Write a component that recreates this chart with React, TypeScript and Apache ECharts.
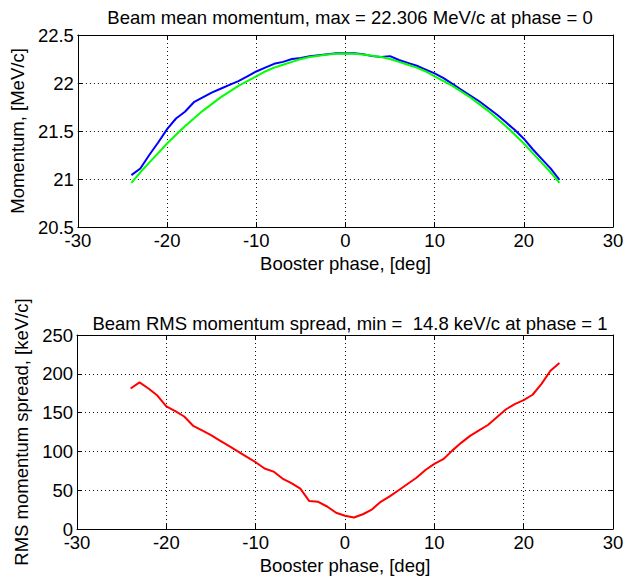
import React, { useEffect, useRef } from "react";
import * as echarts from "echarts";

const phase: number[] = [
  -24, -23, -22, -21, -20, -19, -18, -17, -16, -15, -14, -13, -12, -11, -10, -9, -8, -7, -6, -5, -4, -3, -2, -1, 0,
  1, 2, 3, 4, 5, 6, 7, 8, 9, 10, 11, 12, 13, 14, 15, 16, 17, 18, 19, 20, 21, 22, 23, 24,
];

const meanBlue: number[] = [
  21.04, 21.11, 21.25, 21.38, 21.52, 21.63, 21.7, 21.8, 21.85, 21.9, 21.94, 21.98, 22.02, 22.07, 22.12, 22.16, 22.2,
  22.22, 22.25, 22.26, 22.28, 22.29, 22.3, 22.31, 22.31, 22.31, 22.3, 22.28, 22.27, 22.28, 22.24, 22.21, 22.18, 22.14,
  22.1, 22.05, 21.99, 21.93, 21.87, 21.81, 21.74, 21.67, 21.59, 21.51, 21.42, 21.31, 21.21, 21.11, 20.99,
];

const meanGreen: number[] = [
  20.96, 21.07, 21.17, 21.27, 21.37, 21.46, 21.55, 21.63, 21.71, 21.78, 21.85, 21.91, 21.97, 22.02, 22.07, 22.12,
  22.16, 22.19, 22.22, 22.25, 22.27, 22.285, 22.297, 22.304, 22.306, 22.304, 22.297, 22.285, 22.27, 22.25, 22.22,
  22.19, 22.16, 22.12, 22.07, 22.02, 21.97, 21.91, 21.85, 21.78, 21.71, 21.63, 21.55, 21.46, 21.37, 21.27, 21.17,
  21.07, 20.96,
];

const rmsSpread: number[] = [
  181, 189, 181, 172, 158, 152, 145, 133, 127, 121, 114, 107, 100, 93, 86, 78, 74, 65, 59, 52, 36, 35, 29, 21, 17,
  14.8, 19, 25, 35, 42, 50, 58, 66, 76, 84, 90, 101, 111, 120, 127, 134, 144, 154, 161, 166, 173, 187, 204, 214,
];

const topTitle = "Beam mean momentum, max = 22.306 MeV/c at phase = 0";
const bottomTitle = "Beam RMS momentum spread, min =  14.8 keV/c at phase = 1";
const xName = "Booster phase, [deg]";
const topYName = "Momentum, [MeV/c]";
const bottomYName = "RMS momentum spread, [keV/c]";

const FONT = "'Liberation Sans', Arial, Helvetica, sans-serif";
const FS = 18.5;

export default function App() {
  const ref = useRef<HTMLDivElement>(null);

  useEffect(() => {
    if (!ref.current) return;
    const chart = echarts.init(ref.current, null, { renderer: "svg" });

    const txt = { color: "#000", fontFamily: FONT, fontSize: FS };
    const dotted = { show: true, lineStyle: { color: "#111", width: 1, type: [1, 3] as any } };
    const axLine = { show: true, onZero: false, lineStyle: { color: "#000", width: 1 } };
    const tick = { show: true, inside: true, length: 5, lineStyle: { color: "#000" } };

    const mainX = (gi: number) => ({
      type: "value",
      gridIndex: gi,
      position: "bottom",
      min: -30,
      max: 30,
      interval: 10,
      axisLine: axLine,
      axisTick: tick,
      splitLine: dotted,
      axisLabel: { ...txt, margin: 4 },
      name: xName,
      nameLocation: "middle",
      nameGap: 27,
      nameTextStyle: txt,
    });
    const secX = (gi: number) => ({
      type: "value",
      gridIndex: gi,
      position: "top",
      min: -30,
      max: 30,
      interval: 10,
      axisLine: axLine,
      axisTick: tick,
      splitLine: { show: false },
      axisLabel: { show: false },
    });
    const mainY = (gi: number, min: number, max: number, interval: number, name: string, gap: number) => ({
      type: "value",
      gridIndex: gi,
      position: "left",
      min,
      max,
      interval,
      axisLine: axLine,
      axisTick: tick,
      splitLine: dotted,
      axisLabel: { ...txt, margin: 4 },
      name,
      nameLocation: "middle",
      nameGap: gap,
      nameTextStyle: txt,
    });
    const secY = (gi: number, min: number, max: number, interval: number) => ({
      type: "value",
      gridIndex: gi,
      position: "right",
      min,
      max,
      interval,
      axisLine: axLine,
      axisTick: tick,
      splitLine: { show: false },
      axisLabel: { show: false },
    });

    const pairs = (ys: number[]) => phase.map((x, i) => [x, ys[i]]);

    chart.setOption({
      animation: false,
      backgroundColor: "#fff",
      title: [
        { text: topTitle, left: 345, top: 3, textAlign: "center", textStyle: { ...txt, fontWeight: "normal" } },
        { text: bottomTitle, left: 345, top: 309, textAlign: "center", textStyle: { ...txt, fontWeight: "normal" } },
      ],
      grid: [
        { left: 77, top: 35, width: 536, height: 192 },
        { left: 77, top: 335, width: 536, height: 194 },
      ],
      xAxis: [mainX(0), secX(0), mainX(1), secX(1)],
      yAxis: [
        mainY(0, 20.5, 22.5, 0.5, topYName, 43),
        secY(0, 20.5, 22.5, 0.5),
        mainY(1, 0, 250, 50, bottomYName, 40),
        secY(1, 0, 250, 50),
      ],
      series: [
        {
          type: "line",
          xAxisIndex: 0,
          yAxisIndex: 0,
          data: pairs(meanBlue),
          showSymbol: false,
          lineStyle: { color: "#0000ff", width: 2 },
          itemStyle: { color: "#0000ff" },
        },
        {
          type: "line",
          xAxisIndex: 0,
          yAxisIndex: 0,
          data: pairs(meanGreen),
          showSymbol: false,
          lineStyle: { color: "#00ff00", width: 2 },
          itemStyle: { color: "#00ff00" },
        },
        {
          type: "line",
          xAxisIndex: 2,
          yAxisIndex: 2,
          data: pairs(rmsSpread),
          showSymbol: false,
          lineStyle: { color: "#ff0000", width: 2 },
          itemStyle: { color: "#ff0000" },
        },
      ],
    });

    return () => chart.dispose();
  }, []);

  return (
    <div
      ref={ref}
      style={{ position: "absolute", left: 0, top: 0, width: 637, height: 578, background: "#fff" }}
    />
  );
}
